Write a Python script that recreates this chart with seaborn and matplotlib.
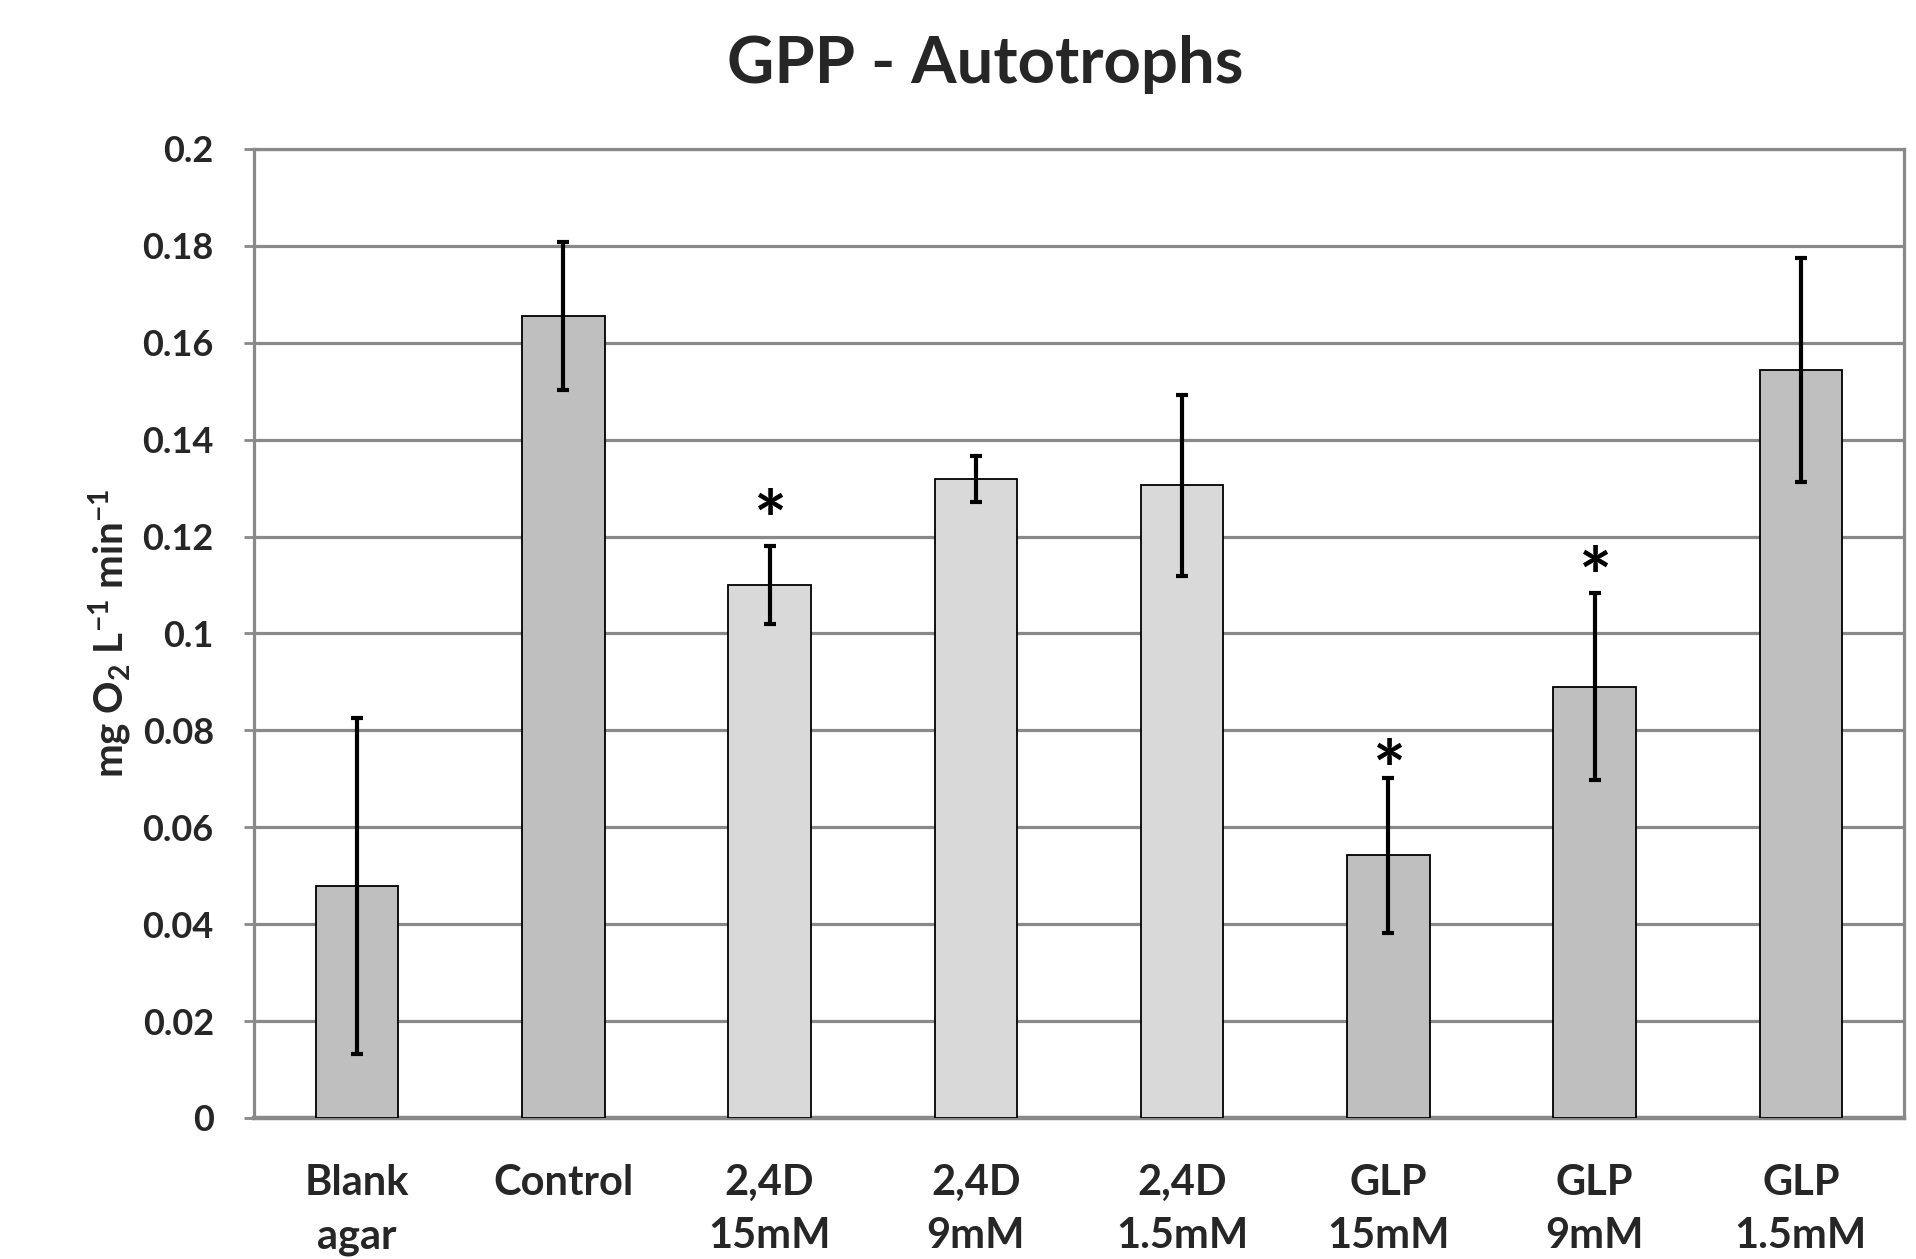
import matplotlib
matplotlib.use("Agg")
import matplotlib.pyplot as plt
import seaborn as sns
import pandas as pd
import numpy as np

categories = ["Blank\nagar", "Control", "2,4D\n15mM", "2,4D\n9mM", "2,4D\n1.5mM",
              "GLP\n15mM", "GLP\n9mM", "GLP\n1.5mM"]
groups = ["dark", "dark", "light", "light", "light", "dark", "dark", "dark"]
values = [0.0479, 0.1655, 0.1100, 0.1319, 0.1306, 0.0542, 0.0890, 0.1544]
errors = [0.0347, 0.0153, 0.0080, 0.0048, 0.0187, 0.0160, 0.0193, 0.0231]
stars = ["", "", "*", "", "", "*", "*", ""]
star_y = [None, None, 0.1274, None, None, 0.0757, 0.1155, None]

sns.set_theme(style="white")
plt.rcParams["font.family"] = ["Lato", "DejaVu Sans"]
plt.rcParams["font.weight"] = "bold"
plt.rcParams["mathtext.fontset"] = "custom"
plt.rcParams["mathtext.rm"] = "Lato:bold"
plt.rcParams["mathtext.bf"] = "Lato:bold"
plt.rcParams["mathtext.default"] = "bf"

df = pd.DataFrame({"cat": categories, "val": values, "grp": groups})

fig = plt.figure(figsize=(19.16, 12.59), dpi=100)
ax = fig.add_axes([0.1326, 0.112, 0.9937 - 0.1326, 0.8817 - 0.112])

sns.barplot(data=df, x="cat", y="val", hue="grp", dodge=False,
            palette={"dark": "#BFBFBF", "light": "#D9D9D9"},
            edgecolor="black", linewidth=1.3, width=0.40, legend=False,
            ax=ax, zorder=3)

x = np.arange(len(categories))
ax.errorbar(x, values, yerr=errors, fmt="none", ecolor="black",
            elinewidth=3, capsize=4.5, capthick=3, zorder=4)

for xi, s, sy in zip(x, stars, star_y):
    if s:
        ax.text(xi, sy - 0.0126, s, ha="center", va="bottom",
                fontsize=56, fontweight="bold", color="black", zorder=5)

ax.set_ylim(0, 0.2)
ax.set_xlim(-0.5, len(categories) - 0.5)
ax.set_yticks(np.arange(0, 0.2001, 0.02))
ax.set_yticklabels(["0", "0.02", "0.04", "0.06", "0.08", "0.1", "0.12",
                    "0.14", "0.16", "0.18", "0.2"])
ax.yaxis.grid(True, color="#898989", linewidth=2.3, zorder=0)
ax.set_axisbelow(True)

ax.set_xticks(x)
ax.set_xticklabels(categories, linespacing=1.5)
ax.set_xticks(np.arange(-0.5, len(categories), 1.0), minor=True)
ax.tick_params(axis="x", which="major", length=0, pad=33, labelsize=30)
ax.tick_params(axis="x", which="minor", length=11, width=2, color="#898989",
               direction="out")
ax.tick_params(axis="y", which="major", length=7, width=2, color="#898989",
               direction="out", pad=22, labelsize=26, left=True)
for lab in ax.get_xticklabels() + ax.get_yticklabels():
    lab.set_fontweight("bold")

for side, sp in ax.spines.items():
    sp.set_visible(True)
    sp.set_color("#898989")
    sp.set_linewidth(2.3)
ax.spines["bottom"].set_linewidth(3.2)

ax.set_xlabel("")
ax.set_ylabel(r"mg O$_2$ L$^{-1}$ min$^{-1}$", fontsize=29, fontweight="bold",
              labelpad=10)
ax.yaxis.set_label_coords(-0.073, 0.50)

fig.suptitle("GPP - Autotrophs", fontsize=47, fontweight="bold", x=0.514,
             y=0.949, va="center")

fig.savefig("out.png", dpi=100, facecolor="white")
